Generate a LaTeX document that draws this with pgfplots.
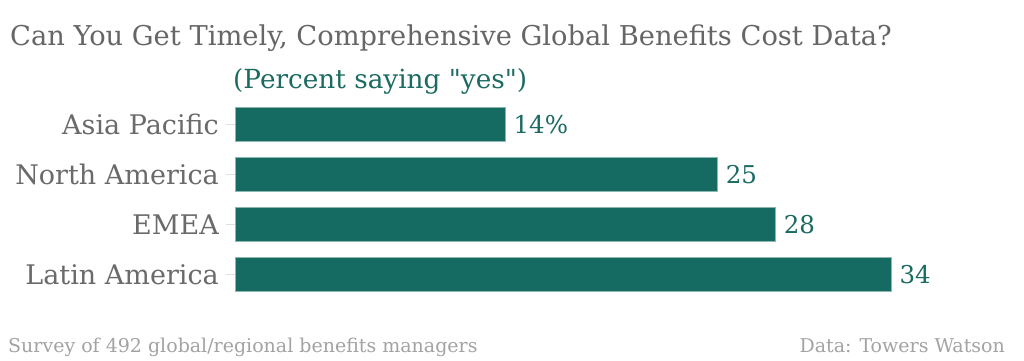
\documentclass[border=0pt]{standalone}
\usepackage{pgfplots}
\pgfplotsset{compat=1.18}
\usepackage{fontspec}
\setmainfont{DejaVu Serif}
\newfontfamily\footfont{DejaVu Serif}
\newfontfamily\subfont[Ligatures=TeXOff]{DejaVu Serif}
\definecolor{barfill}{HTML}{156A61}
\definecolor{baredge}{HTML}{8DB8B1}
\definecolor{tealtext}{HTML}{1B6B62}
\definecolor{titlegray}{HTML}{666666}
\definecolor{labgray}{HTML}{6A6A6A}
\definecolor{footgray}{HTML}{A3A3A3}
\begin{document}
\begin{tikzpicture}[x=1pt,y=1pt]
\useasboundingbox (0,0) rectangle (1024,360);
\fill[white] (0,0) rectangle (1024,360);
\begin{axis}[
  at={(235pt,61pt)}, anchor=south west,
  scale only axis, width=772pt, height=200pt,
  xmin=0, xmax=40, ymin=-0.5, ymax=3.5,
  y dir=reverse,
  xbar, bar width=34pt, bar shift=0pt,
  axis line style={draw=none},
  xtick=\empty,
  ytick={0,1,2,3}, ytick pos=left,
  yticklabels={Asia Pacific, North America, EMEA, Latin America},
  ytick style={draw=gray!25, line width=1pt},
  tick align=outside, major tick length=9pt,
  yticklabel style={font=\fontsize{27}{27}\selectfont, text=labgray, anchor=base east, inner sep=0pt, xshift=-7pt, yshift=-10pt},
  point meta=explicit symbolic,
  nodes near coords,
  every node near coord/.append style={font=\fontsize{24.5}{24.5}\selectfont, text=tealtext, anchor=base west, inner sep=0pt, xshift=8pt, yshift=-9pt},
  clip=false,
]
\addplot[fill=barfill, draw=baredge, line width=0.8pt] coordinates {
  (14,0) [14\%]
  (25,1) [25]
  (28,2) [28]
  (34,3) [34]
};
\end{axis}
\node[anchor=base west, inner sep=0pt, text=titlegray, font=\fontsize{27.3}{27.3}\selectfont] at (10,315) {Can You Get Timely, Comprehensive Global Benefits Cost Data?};
\node[anchor=base west, inner sep=0pt, text=tealtext, font=\subfont\fontsize{26.3}{26.3}\selectfont] at (233,272) {(Percent saying "yes")};
\node[anchor=base west, inner sep=0pt, text=footgray, font=\footfont\fontsize{19}{19}\selectfont] at (8,8) {Survey of 492 global/regional benefits managers};
\node[anchor=base east, inner sep=0pt, text=footgray, font=\footfont\fontsize{19}{19}\selectfont] at (1005,8) {Data: Towers Watson};
\end{tikzpicture}
\end{document}
